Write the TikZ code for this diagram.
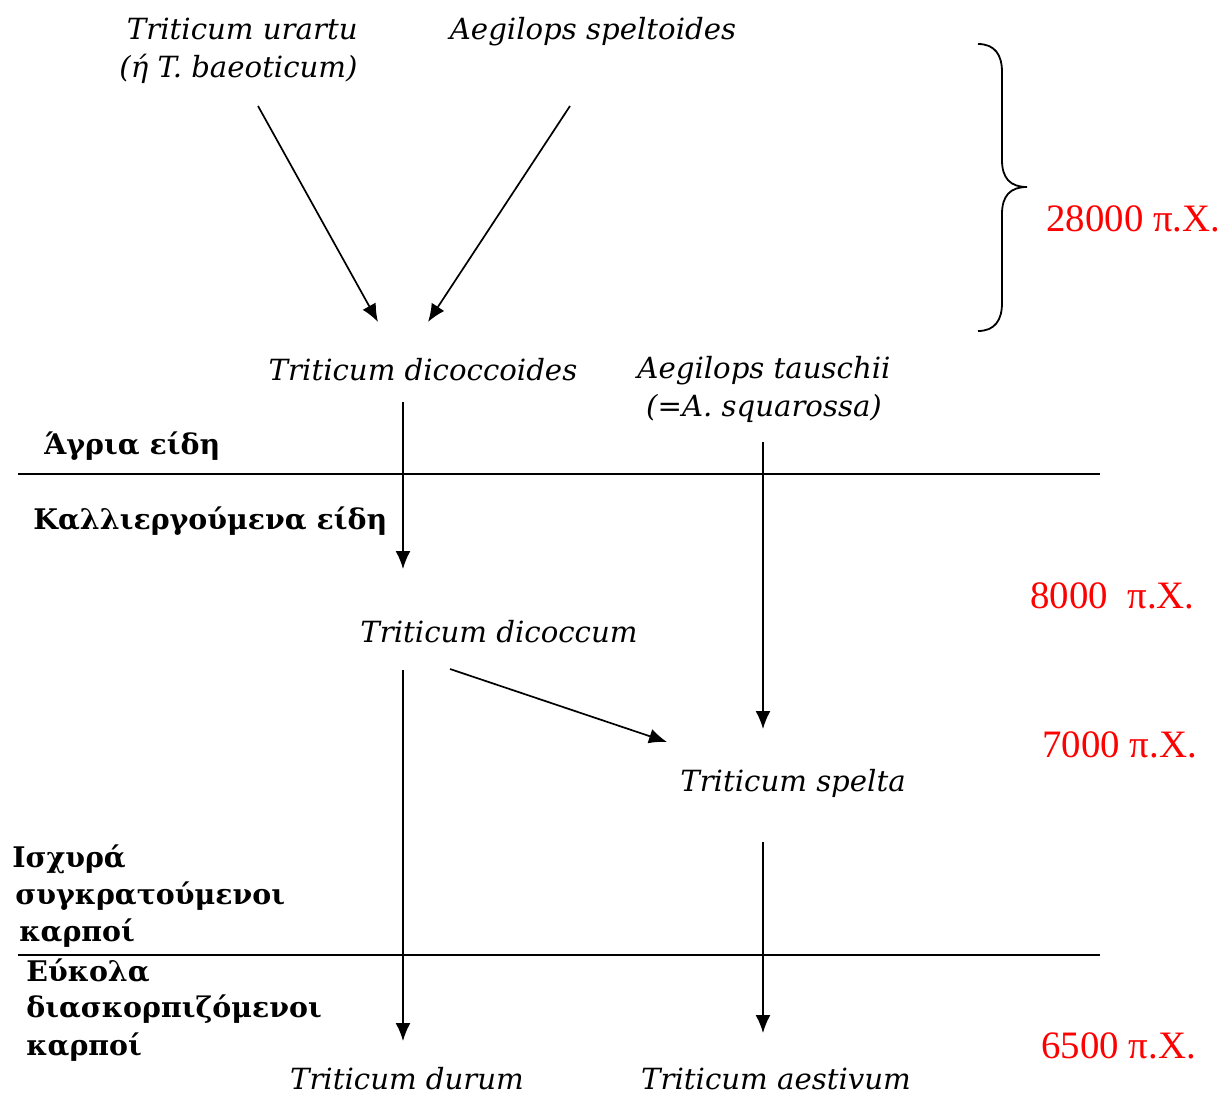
\documentclass[tikz,border=0pt]{standalone}
\usepackage{fontspec}
\setmainfont{DejaVu Serif}
\newfontfamily\redfont{Liberation Serif}
\usetikzlibrary{arrows.meta}
\tikzset{
  sp/.style={font=\fontsize{14.6}{19}\selectfont\itshape, inner sep=0pt, anchor=center},
  grp/.style={font=\fontsize{14.2}{19}\selectfont\bfseries, inner sep=0pt, anchor=west, align=left},
  era/.style={font=\redfont\fontsize{19.4}{19}\selectfont, text=red, inner sep=0pt, anchor=west},
  arr/.style={line width=0.85pt, -{Latex[length=9pt,width=7.5pt]}},
  sep/.style={line width=0.85pt},
}
\begin{document}
\begin{tikzpicture}[x=0.5pt,y=-0.5pt]
\useasboundingbox (0,0) rectangle (1232,1097);
% species
\node[sp, anchor=east, align=right] (urartu) at (358,51) {Triticum urartu\\(ή T. baeoticum)};
\node[sp] (speltoides) at (593,32) {Aegilops speltoides};
\node[sp] (dicoccoides) at (423,370) {Triticum dicoccoides};
\node[sp, align=center] (tauschii) at (764,389) {Aegilops tauschii\\(=A. squarossa)};
\node[sp] (dicoccum) at (499,632) {Triticum dicoccum};
\node[sp] (spelta) at (793,783) {Triticum spelta};
\node[sp] (durum) at (407,1079) {Triticum durum};
\node[sp] (aestivum) at (776,1079) {Triticum aestivum};
% group labels
\node[grp] (agria) at (44,446) {Άγρια είδη};
\node[grp] (kall) at (33,521) {Καλλιεργούμενα είδη};
\node[grp] (isx1) at (12,859) {Ισχυρά};
\node[grp] (isx2) at (15,896) {συγκρατούμενοι};
\node[grp] (isx3) at (19,933) {καρποί};
\node[grp] (euk1) at (26,971) {Εύκολα};
\node[grp] (euk2) at (26,1009) {διασκορπιζόμενοι};
\node[grp] (euk3) at (26,1047) {καρποί};
% dates
\node[era] (d28) at (1046,219) {28000 π.Χ.};
\node[era] (d8) at (1030,596) {8000\ \ π.Χ.};
\node[era] (d7) at (1042,745) {7000 π.Χ.};
\node[era] (d65) at (1041,1046) {6500 π.Χ.};
% separator lines
\coordinate (l1a) at (18,474); \coordinate (l1b) at (1100,474);
\coordinate (l2a) at (18,955); \coordinate (l2b) at (1100,955);
\draw[sep] (l1a) -- (l1b);
\draw[sep] (l2a) -- (l2b);
% arrow endpoints
\coordinate (a1s) at (258,106); \coordinate (a1e) at (378,322);
\coordinate (a2s) at (570,106); \coordinate (a2e) at (428,322);
\coordinate (a3s) at (403,402); \coordinate (a3e) at (403,569);
\coordinate (a4s) at (763,442); \coordinate (a4e) at (763,729);
\coordinate (a5s) at (403,670); \coordinate (a5e) at (403,1041);
\coordinate (a6s) at (450,669); \coordinate (a6e) at (667,742);
\coordinate (a7s) at (763,842); \coordinate (a7e) at (763,1033);
\draw[arr] (a1s) -- (a1e);
\draw[arr] (a2s) -- (a2e);
\draw[arr] (a3s) -- (a3e);
\draw[arr] (a4s) -- (a4e);
\draw[arr] (a5s) -- (a5e);
\draw[arr] (a6s) -- (a6e);
\draw[arr] (a7s) -- (a7e);
% brace
\coordinate (bt) at (978,44);
\coordinate (bb) at (978,331);
\coordinate (btip) at (1027,187);
\draw[line width=0.9pt] (bt) .. controls (995,44) and (1002,55) .. (1002,72)
  -- (1002,160) .. controls (1002,178) and (1010,187) .. (btip)
  .. controls (1010,187) and (1002,196) .. (1002,214)
  -- (1002,303) .. controls (1002,320) and (995,331) .. (bb);
\end{tikzpicture}
\end{document}
